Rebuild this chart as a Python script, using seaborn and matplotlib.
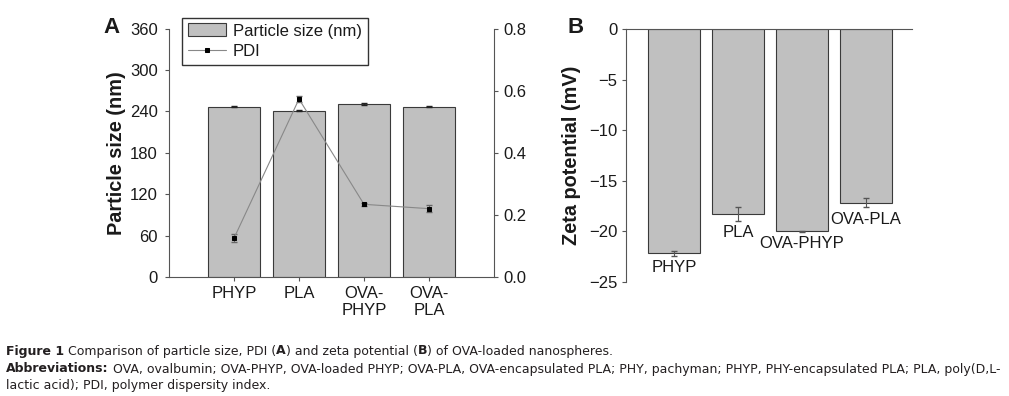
import numpy as np
import pandas as pd
import matplotlib
matplotlib.use("Agg")
import matplotlib.pyplot as plt
import seaborn as sns

# data
groups_a = ["PHYP", "PLA", "OVA-\nPHYP", "OVA-\nPLA"]
size_nm = [247, 241, 251, 247]
size_err = [1.0, 1.0, 1.5, 1.0]
pdi = [0.125, 0.573, 0.234, 0.220]
pdi_err = [0.012, 0.010, 0.004, 0.012]

groups_b = ["PHYP", "PLA", "OVA-PHYP", "OVA-PLA"]
zeta_mv = [-22.2, -18.3, -20.0, -17.2]
zeta_err = [0.25, 0.7, 0.05, 0.45]

sns.set_style("ticks")
plt.rcParams["font.family"] = ["Liberation Sans", "DejaVu Sans"]
plt.rcParams["axes.unicode_minus"] = True

BAR = "#c0c0c0"
EDGE = "#3a3a3a"
AXC = "#555555"
TXT = "#1a1a1a"
FS = 12

fig = plt.figure(figsize=(10.09, 3.96), dpi=100)

# ---------------- panel A ----------------
ax1 = fig.add_axes([0.1675, 0.3005, 0.3221, 0.6275])
df_a = pd.DataFrame({"group": groups_a, "size": size_nm})
sns.barplot(data=df_a, x="group", y="size", color=BAR, edgecolor=EDGE,
            linewidth=0.8, width=0.8, errorbar=None, saturation=1, ax=ax1,
            label="Particle size (nm)")
ax1.errorbar(range(4), size_nm, yerr=size_err, fmt="none", ecolor="#222222",
             elinewidth=0.8, capsize=2)
ax1.set_xlim(-1, 4)
ax1.set_ylim(0, 360)
ax1.set_yticks(range(0, 361, 60))
ax1.set_xlabel("")
ax1.set_ylabel("Particle size (nm)", fontsize=14.3, fontweight="bold",
               labelpad=3, color=TXT)
ax1.tick_params(axis="both", labelsize=FS, color=AXC, length=3, width=0.8,
                labelcolor=TXT)
ax1.tick_params(axis="y", pad=5)
for s in ["left", "bottom"]:
    ax1.spines[s].set_color(AXC)
ax1.spines["top"].set_visible(False)
ax1.spines["right"].set_visible(False)

ax1r = ax1.twinx()
ax1r.errorbar(range(4), pdi, yerr=pdi_err, fmt="none", ecolor="#666666",
              elinewidth=0.7, capsize=2)
sns.lineplot(x=list(range(4)), y=pdi, color="#888888", lw=0.8, marker="s",
             ms=3.5, mfc="black", mec="black", label="PDI", ax=ax1r)
ax1r.set_ylim(0, 0.8)
ax1r.set_yticks([0, 0.2, 0.4, 0.6, 0.8])
ax1r.set_yticklabels(["0.0", "0.2", "0.4", "0.6", "0.8"])
ax1r.tick_params(axis="y", labelsize=FS, color=AXC, length=3, width=0.8,
                 pad=4, labelcolor=TXT)
for s in ["left", "bottom", "top"]:
    ax1r.spines[s].set_visible(False)
ax1r.spines["right"].set_color(AXC)
if ax1r.get_legend() is not None:
    ax1r.get_legend().remove()

h1, l1 = ax1.get_legend_handles_labels()
h2, l2 = ax1r.get_legend_handles_labels()
leg = ax1.legend(h1 + h2, l1 + l2, loc="upper left", bbox_to_anchor=(0.04, 1.044),
                 borderaxespad=0, fontsize=FS, frameon=True, fancybox=False,
                 edgecolor="black", handlelength=2.3, handleheight=0.8,
                 borderpad=0.35, labelspacing=0.3, handletextpad=0.4)
leg.get_frame().set_linewidth(1.0)
for t in leg.get_texts():
    t.set_color(TXT)

fig.text(0.103, 0.93, "A", fontsize=16, fontweight="bold", va="center", color=TXT)

# ---------------- panel B ----------------
ax2 = fig.add_axes([0.6204, 0.2886, 0.2835, 0.6382])
df_b = pd.DataFrame({"group": groups_b, "zeta": zeta_mv})
sns.barplot(data=df_b, x="group", y="zeta", color=BAR, edgecolor=EDGE,
            linewidth=0.8, width=0.8, errorbar=None, saturation=1, ax=ax2)
ax2.errorbar(range(4), zeta_mv, yerr=zeta_err, fmt="none", ecolor="#555555",
             elinewidth=0.8, capsize=2)
ax2.set_xlim(-0.75, 3.72)
ax2.set_ylim(-25, 0)
ax2.set_yticks(range(-25, 1, 5))
ax2.set_xticks([])
ax2.set_xlabel("")
ax2.set_ylabel("Zeta potential (mV)", fontsize=14.3, fontweight="bold",
               labelpad=6, color=TXT)
ax2.tick_params(axis="y", labelsize=FS, color=AXC, length=3, width=0.8, pad=3,
                labelcolor=TXT)
ax2.spines["bottom"].set_visible(False)
ax2.spines["right"].set_visible(False)
ax2.spines["top"].set_color(AXC)
ax2.spines["left"].set_color(AXC)
for i, (g, v, e) in enumerate(zip(groups_b, zeta_mv, zeta_err)):
    ax2.annotate(g, (i, v - e), xytext=(0, -3), textcoords="offset points",
                 ha="center", va="top", fontsize=FS, color=TXT)

fig.text(0.562, 0.93, "B", fontsize=16, fontweight="bold", va="center", color=TXT)

# ---------------- caption ----------------
cap_font = ["Liberation Sans Narrow", "DejaVu Sans"]
cap_col = "#231f20"
cap_fs = 9.0


def rich_line(x, y, parts):
    fig.canvas.draw()
    r = fig.canvas.get_renderer()
    for txt, bold in parts:
        t = fig.text(x, y, txt, fontsize=cap_fs, family=cap_font, color=cap_col,
                     fontweight="bold" if bold else "normal", va="center")
        bb = t.get_window_extent(renderer=r)
        x = x + bb.width / fig.bbox.width


rich_line(0.006, 1 - 351 / 396, [("Figure 1", True),
                                 (" Comparison of particle size, PDI (", False),
                                 ("A", True), (") and zeta potential (", False),
                                 ("B", True), (") of OVA-loaded nanospheres.", False)])
rich_line(0.006, 1 - 369 / 396, [("Abbreviations:", True),
                                 (" OVA, ovalbumin; OVA-PHYP, OVA-loaded PHYP; OVA-PLA, "
                                  "OVA-encapsulated PLA; PHY, pachyman; PHYP, PHY-encapsulated "
                                  "PLA; PLA, poly(D,L-", False)])
rich_line(0.006, 1 - 385 / 396, [("lactic acid); PDI, polymer dispersity index.", False)])

fig.savefig("out.png", dpi=100)
